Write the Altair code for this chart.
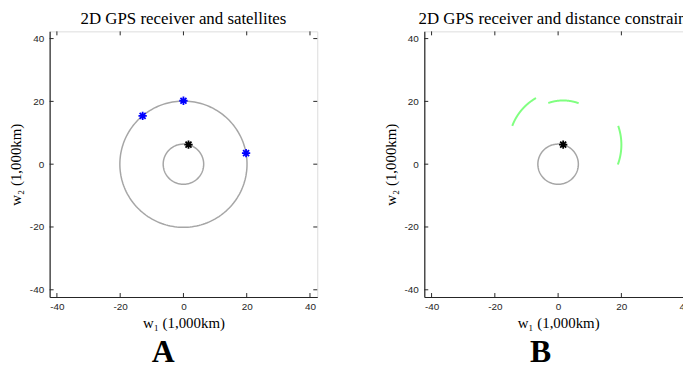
import altair as alt
import numpy as np
import pandas as pd

# ---- data ----
tick_vals = [-40, -20, 0, 20, 40]
domain = [-42.3, 42.3]
earth_radius = 6.4          # 1,000 km
orbit_radius = 20.1         # 1,000 km
receiver_w1 = [1.6]
receiver_w2 = [6.2]
sat_w1 = [0.0, -12.9, 19.8]
sat_w2 = [20.2, 15.4, 3.5]
arc_start_deg = [69.7, 120.0, -20.0]
arc_end_deg = [109.5, 159.6, 19.0]

W, H = 270, 268
GRAY = "#a6a6a6"
AX = "#262626"
STAR = "M-1,0L1,0M0,-1L0,1M-0.72,-0.72L0.72,0.72M-0.72,0.72L0.72,-0.72"


def circle_df(r, cx=0.0, cy=0.0, a0=0.0, a1=360.0, name="c"):
    t = np.radians(np.linspace(a0, a1, 181))
    return pd.DataFrame({"w1": cx + r * np.cos(t), "w2": cy + r * np.sin(t),
                         "o": np.arange(181), "id": name})


earth = circle_df(earth_radius, name="earth")
orbit = circle_df(orbit_radius, name="orbit")
arcs = []
for i in range(3):
    rr = float(np.hypot(sat_w1[i] - receiver_w1[0], sat_w2[i] - receiver_w2[0]))
    arcs.append(circle_df(rr, receiver_w1[0], receiver_w2[0],
                          arc_start_deg[i], arc_end_deg[i], name=f"arc{i}"))
arcs = pd.concat(arcs)
sats = pd.DataFrame({"w1": sat_w1, "w2": sat_w2})
rec = pd.DataFrame({"w1": receiver_w1, "w2": receiver_w2})
tx = pd.DataFrame({"w1": tick_vals})
ty = pd.DataFrame({"w2": tick_vals})

xs = alt.Scale(domain=domain, nice=False, zero=False)
ys = alt.Scale(domain=domain, nice=False, zero=False)
common_axis = dict(values=tick_vals, ticks=False, grid=False,
                   labelExpr="'' + datum.value",
                   labelFont="Liberation Sans", labelFontSize=10, labelColor=AX,
                   domainColor=AX, domainWidth=1.2,
                   titleFont="Liberation Serif", titleFontSize=15,
                   titleFontWeight="normal", titleColor="black")
X = alt.X("w1:Q", scale=xs, axis=alt.Axis(title="w₁ (1,000km)", labelPadding=5,
                                           titlePadding=4, **common_axis))
Y = alt.Y("w2:Q", scale=ys, axis=alt.Axis(title="w₂ (1,000km)", labelPadding=6,
                                           titlePadding=6, **common_axis))


def lines(df, color, width=1.5):
    return alt.Chart(df).mark_line(color=color, strokeWidth=width).encode(
        x=X, y=Y, detail="id:N", order="o:Q")


def stars(df, color):
    return alt.Chart(df).mark_point(shape=STAR, size=70, filled=False,
                                    strokeWidth=1.8, color=color, opacity=1).encode(x=X, y=Y)


def tick_layers():
    b = alt.Chart(tx).mark_rule(color=AX).encode(x=X, y=alt.value(H), y2=alt.value(H - 4))
    t = alt.Chart(tx).mark_rule(color=AX).encode(x=X, y=alt.value(0), y2=alt.value(4))
    l = alt.Chart(ty).mark_rule(color=AX).encode(y=Y, x=alt.value(0), x2=alt.value(4))
    r = alt.Chart(ty).mark_rule(color=AX).encode(y=Y, x=alt.value(W), x2=alt.value(W - 4))
    return [b, t, l, r]


def panel(title, layers, letter):
    p = alt.layer(*layers, *tick_layers()).properties(
        width=W, height=H,
        title=alt.TitleParams(title, font="Liberation Serif", fontSize=17,
                              fontWeight="normal", color="black", offset=3))
    return alt.vconcat(p).properties(
        title=alt.TitleParams(letter, orient="bottom", anchor="middle",
                              font="Liberation Serif",
                              fontSize=32, fontWeight="bold", color="black", offset=6))


A = panel("2D GPS receiver and satellites",
          [lines(earth, GRAY), lines(orbit, GRAY), stars(sats, "#0000ff"), stars(rec, "black")],
          "A")
B = panel("2D GPS receiver and distance constraints",
          [lines(earth, GRAY), lines(arcs, "#80ff80", 2), stars(rec, "black")],
          "B")

chart = alt.hconcat(A, B, spacing=65).properties(
    padding={"left": 0, "top": 0, "right": -16, "bottom": -8}).configure_view(
    stroke=AX, strokeWidth=1).configure(background="white")

chart.save("out.html", embed_options={"renderer": "svg", "actions": False})
